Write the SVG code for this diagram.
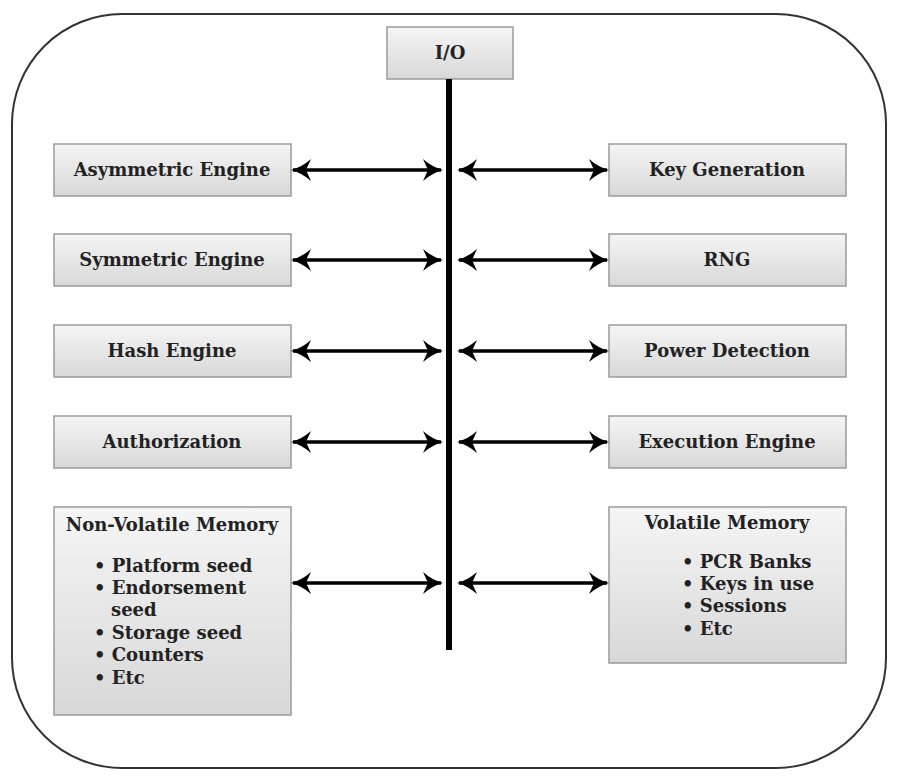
<svg xmlns="http://www.w3.org/2000/svg" width="898" height="776" viewBox="0 0 898 776">
<style>
.box{fill:url(#g);stroke:#9a9a9a;stroke-width:1.5}
.t{font-family:"DejaVu Serif",serif;font-weight:bold;font-size:18px;fill:#222}
.c{text-anchor:middle}
.ln{stroke:#000;stroke-width:3.5;fill:none;marker-start:url(#a);marker-end:url(#a)}
</style>
<defs>
<linearGradient id="g" x1="0" y1="0" x2="0" y2="1">
<stop offset="0" stop-color="#f5f5f5"/>
<stop offset="1" stop-color="#d8d8d8"/>
</linearGradient>
<marker id="a" markerWidth="20" markerHeight="22" refX="18" refY="11" orient="auto-start-reverse" markerUnits="userSpaceOnUse" viewBox="0 0 20 22">
<path d="M0,0 Q9,8 20,11 Q9,14 0,22 L5,11 Z" fill="#000"/>
</marker>
</defs>
<rect x="12" y="14" width="874" height="754" rx="110" ry="110" fill="#fff" stroke="#333" stroke-width="2"/>
<g id="io"><rect class="box" x="387" y="27" width="126" height="52"/><text class="t c" x="450" y="59">I/O</text></g>
<g id="asym"><rect class="box" x="54" y="144" width="237" height="52"/><text class="t c" x="172" y="176">Asymmetric Engine</text></g>
<g id="sym"><rect class="box" x="54" y="234" width="237" height="52"/><text class="t c" x="172" y="266">Symmetric Engine</text></g>
<g id="hash"><rect class="box" x="54" y="325" width="237" height="52"/><text class="t c" x="172" y="357">Hash Engine</text></g>
<g id="auth"><rect class="box" x="54" y="416" width="237" height="52"/><text class="t c" x="172" y="448">Authorization</text></g>
<g id="keygen"><rect class="box" x="609" y="144" width="237" height="52"/><text class="t c" x="727" y="176">Key Generation</text></g>
<g id="rng"><rect class="box" x="609" y="234" width="237" height="52"/><text class="t c" x="727" y="266">RNG</text></g>
<g id="power"><rect class="box" x="609" y="325" width="237" height="52"/><text class="t c" x="727" y="357">Power Detection</text></g>
<g id="exec"><rect class="box" x="609" y="416" width="237" height="52"/><text class="t c" x="727" y="448">Execution Engine</text></g>
<g id="nvm"><rect class="box" x="54" y="507" width="237" height="208"/>
<text class="t c" x="172" y="531">Non-Volatile Memory</text>
<text class="t" x="94" y="572">• Platform seed</text>
<text class="t" x="94" y="594">• Endorsement</text>
<text class="t" x="111" y="616">seed</text>
<text class="t" x="94" y="639">• Storage seed</text>
<text class="t" x="94" y="661">• Counters</text>
<text class="t" x="94" y="684">• Etc</text>
</g>
<g id="vm"><rect class="box" x="609" y="507" width="237" height="156"/>
<text class="t c" x="727" y="529">Volatile Memory</text>
<text class="t" x="682" y="568">• PCR Banks</text>
<text class="t" x="682" y="590">• Keys in use</text>
<text class="t" x="682" y="612">• Sessions</text>
<text class="t" x="682" y="635">• Etc</text>
</g>
<g id="connectors">
<line x1="449" y1="79" x2="449" y2="650" stroke="#000" stroke-width="6"/>
<line class="ln" x1="293" y1="170" x2="441" y2="170"/>
<line class="ln" x1="459" y1="170" x2="607" y2="170"/>
<line class="ln" x1="293" y1="260" x2="441" y2="260"/>
<line class="ln" x1="459" y1="260" x2="607" y2="260"/>
<line class="ln" x1="293" y1="351" x2="441" y2="351"/>
<line class="ln" x1="459" y1="351" x2="607" y2="351"/>
<line class="ln" x1="293" y1="442" x2="441" y2="442"/>
<line class="ln" x1="459" y1="442" x2="607" y2="442"/>
<line class="ln" x1="293" y1="583" x2="441" y2="583"/>
<line class="ln" x1="459" y1="583" x2="607" y2="583"/>
</g>
</svg>
